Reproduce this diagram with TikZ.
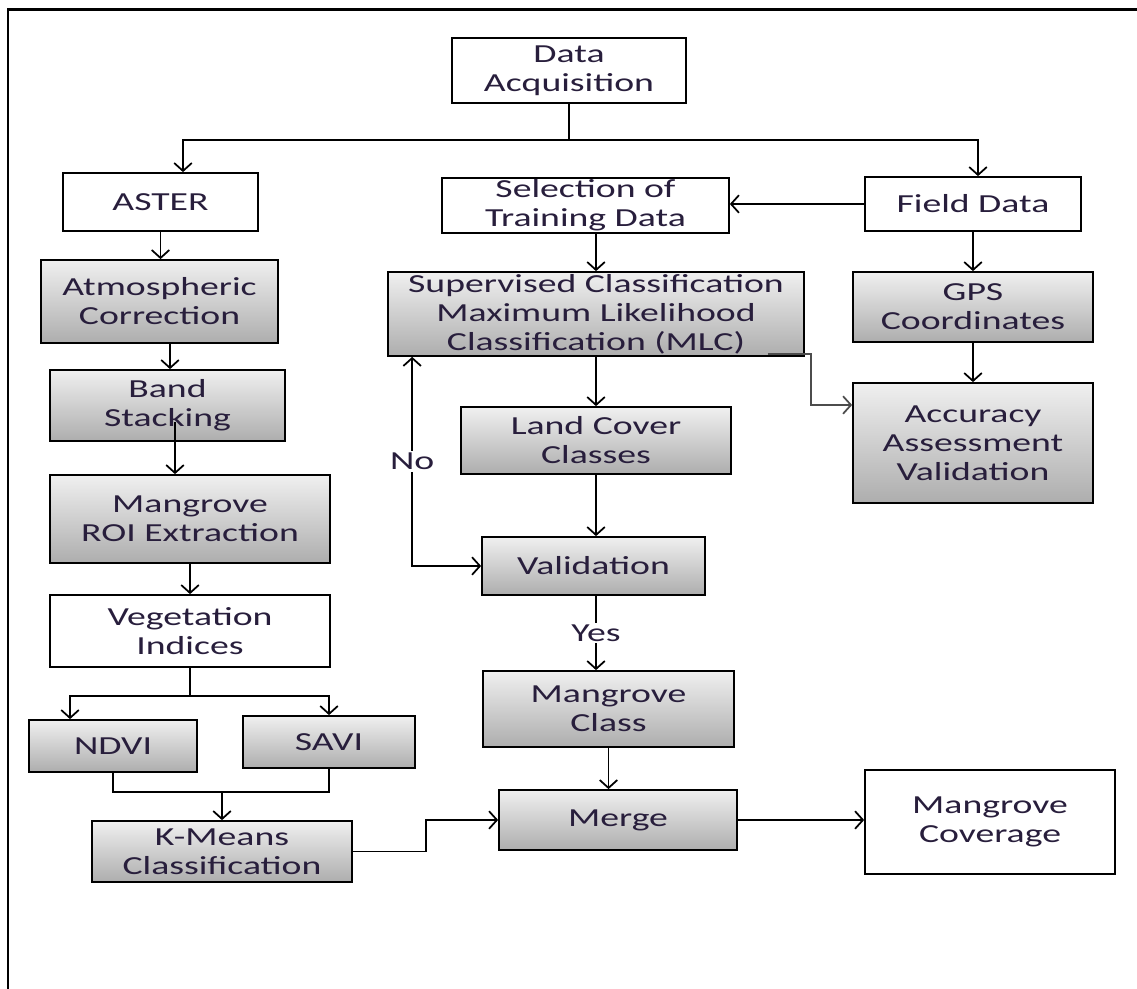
\documentclass[tikz,border=0pt]{standalone}
\usepackage{fontspec}
\setmainfont{Carlito}[FakeStretch=1.45]
\usetikzlibrary{calc}
\usetikzlibrary{arrows.meta, positioning}
\definecolor{txtcol}{RGB}{40,30,60}
\tikzset{>={Straight Barb[length=4.5pt,width=10pt]}}
\tikzset{wbox/.style={draw, line width=1pt, fill=white, align=center, text=txtcol, inner sep=1pt},
gbox/.style={wbox, top color=black!6, bottom color=black!32},
conn/.style={line width=1pt}}

\begin{document}
\begin{tikzpicture}[x=0.02cm,y=-0.02cm,font=\fontsize{14.8}{16.5}\selectfont]
\useasboundingbox (0,0) rectangle (1137,989);
\draw[line width=1.5pt] (8,989)--(8,9.5)--(1137,9.5);

\node[wbox,minimum width=4.68cm,minimum height=1.30cm] (acq) at (569,70.5) {Data\\Acquisition};
\node[wbox,minimum width=3.90cm,minimum height=1.16cm] (aster) at (160.5,202) {ASTER};
\node[gbox,minimum width=4.74cm,minimum height=1.66cm] (atm) at (159.5,301.5) {Atmospheric\\Correction};
\node[gbox,minimum width=4.70cm,minimum height=1.42cm] (band) at (167.5,405.5) {Band\\Stacking};
\node[gbox,minimum width=5.60cm,minimum height=1.76cm] (roi) at (190,519) {Mangrove\\ROI Extraction};
\node[wbox,minimum width=5.60cm,minimum height=1.44cm] (veg) at (190,631) {Vegetation\\Indices};
\node[gbox,minimum width=3.36cm,minimum height=1.04cm] (ndvi) at (113,746) {NDVI};
\node[gbox,minimum width=3.44cm,minimum height=1.04cm] (savi) at (329,742) {SAVI};
\node[gbox,minimum width=5.20cm,minimum height=1.22cm] (kmeans) at (222,851.5) {K-Means\\Classification};
\node[wbox,minimum width=5.74cm,minimum height=1.10cm] (sel) at (585.5,205.5) {Selection of\\Training Data};
\node[wbox,minimum width=4.32cm,minimum height=1.08cm] (field) at (973,204) {Field Data};
\node[gbox,minimum width=8.32cm,minimum height=1.68cm,inner sep=0pt] (sup) at (596,314) {Supervised Classification\\Maximum Likelihood\\Classification (MLC)};
\node[gbox,minimum width=4.80cm,minimum height=1.40cm] (gps) at (973,307) {GPS\\Coordinates};
\node[gbox,minimum width=4.80cm,minimum height=2.40cm] (acc) at (973,443) {Accuracy\\Assessment\\Validation};
\node[gbox,minimum width=5.40cm,minimum height=1.34cm] (land) at (596,440.5) {Land Cover\\Classes};
\node[gbox,minimum width=4.46cm,minimum height=1.16cm] (valid) at (593.5,566) {Validation};
\node[gbox,minimum width=5.02cm,minimum height=1.52cm] (mclass) at (608.5,709) {Mangrove\\Class};
\node[gbox,minimum width=4.76cm,minimum height=1.20cm] (merge) at (618,820) {Merge};
\node[wbox,minimum width=5.00cm,minimum height=2.08cm] (cover) at (990,822) {Mangrove\\Coverage};

\coordinate (topsplit) at (569,140);
\draw[conn] (acq.south) -- (topsplit);
\draw[conn,->] (topsplit) -| ([xshift=0.45cm]aster.north);
\draw[conn,->] (topsplit) -| ([xshift=0.1cm]field.north);
\draw[conn,->] (aster.south) -- (aster.south |- atm.north);
\draw[conn,->] ([xshift=0.05cm]band.north |- atm.south) -- ([xshift=0.05cm]band.north);
\draw[conn,->] ([xshift=0.15cm,yshift=0.4cm]band.south) -- ([xshift=0.15cm]band.south |- roi.north);
\draw[conn,->] (roi.south) -- (veg.north);
\coordinate (vsplit) at (190,696);
\draw[conn] (veg.south) -- (vsplit);
\draw[conn,->] (vsplit) -| ([xshift=-0.86cm]ndvi.north);
\draw[conn,->] (vsplit) -| (savi.north);
\coordinate (vjoin) at (222,792);
\draw[conn] (ndvi.south) |- (vjoin) -| (savi.south);
\draw[conn,->] (vjoin) -- (kmeans.north);
\draw[conn,->] (kmeans.east) -- ++(73,0) |- (merge.west);

\draw[conn,->] (field.west) -- (field.west -| sel.east);
\draw[conn,->] (sel.south -| sup.north) -- (sup.north);
\draw[conn,->] (sup.south) -- (land.north);
\draw[conn,->] (land.south) -- (land.south |- valid.north);
\draw[conn,->] (land.south |- valid.south) -- (land.south |- mclass.north)
  node[midway,fill=white,inner sep=1pt,text=txtcol] (yes) {Yes};
\draw[conn,<->] ([xshift=0.5cm]sup.south west) |- (valid.west)
  node[pos=0.25,fill=white,inner sep=1pt,text=txtcol] (no) {No};
\draw[conn,->,black!70] ([xshift=-0.74cm,yshift=0.06cm]sup.south east) -- ++(43,0) |- ([yshift=0.76cm]acc.west);
\draw[conn,->] (field.south) -- (gps.north);
\draw[conn,->] (gps.south) -- (acc.north);
\draw[conn,->] (mclass.south) -- (mclass.south |- merge.north);
\draw[conn,->] (merge.east) -- (merge.east -| cover.west);
\end{tikzpicture}
\end{document}
